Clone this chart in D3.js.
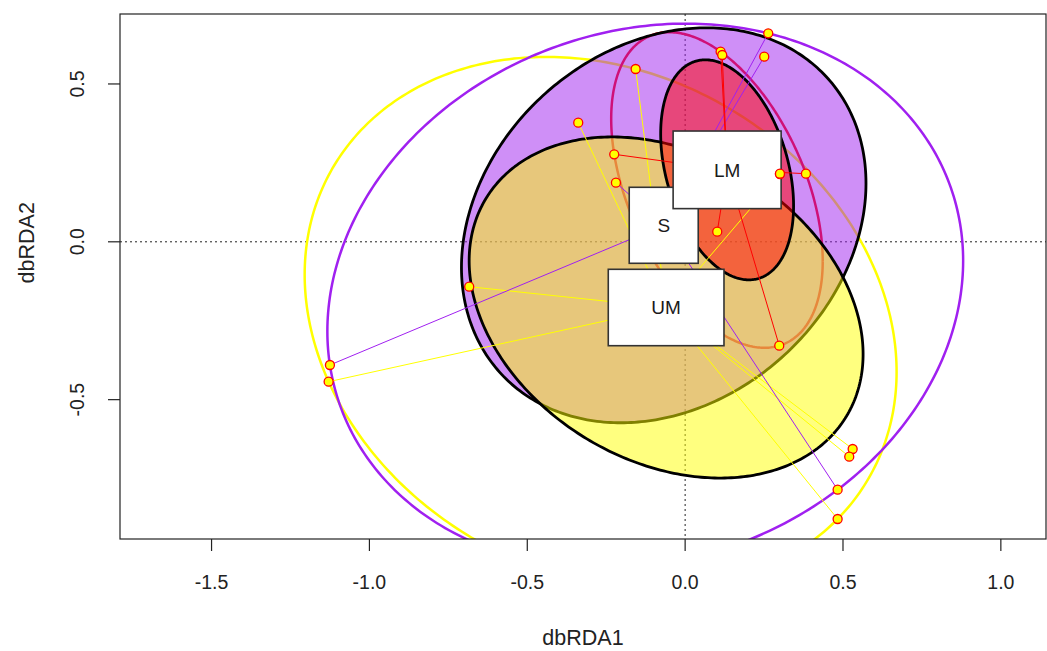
<!DOCTYPE html>
<html>
<head>
<meta charset="utf-8">
<script src="https://cdn.jsdelivr.net/npm/d3@7"></script>
<style>
  html, body { margin: 0; padding: 0; background: #ffffff; }
  svg { display: block; }
  text { font-family: "Liberation Sans", Arial, sans-serif; }
</style>
</head>
<body>
<svg id="chart" width="1047" height="651"></svg>
<script>
// ---- site scores on the first two constrained axes, by group ----
const lmX = [0.1124, 0.1175, -0.2246, 0.3003, 0.3826, 0.1017, 0.2981];
const lmY = [0.6022, 0.5917, 0.2772, 0.2157, 0.2157, 0.0320, -0.3291];

const sX = [0.2632, 0.2506, -0.2192, -1.1251, 0.4830];
const sY = [0.6604, 0.5863, 0.1872, -0.3902, -0.7852];

const umX = [-0.1568, -0.3386, -0.6839, -1.1292, 0.5306, 0.5198, 0.4830, 0.3003];
const umY = [0.5474, 0.3773, -0.1422, -0.4431, -0.6563, -0.6807, -0.8780, 0.2147];

// ---- group centroids (spider hubs and label anchors) ----
const centroidGroup = ["LM", "S", "UM"];
const centroidX = [0.133, -0.0678, -0.0602];
const centroidY = [0.228, 0.0523, -0.2081];

// ---- standard-deviation ellipses: semi-axes and major-axis angle (deg) ----
const sdGroup = ["LM", "S", "UM"];
const sdA = [0.3582, 0.6976, 0.667];
const sdB = [0.1935, 0.5613, 0.486];
const sdAngle = [-74.05, 41.8, -31.1];

// ---- axes ----
const xTicks = [-1.5, -1.0, -0.5, 0.0, 0.5, 1.0];
const yTicks = [-0.5, 0.0, 0.5];
const xLabel = "dbRDA1";
const yLabel = "dbRDA2";

// ---------------------------------------------------------------
const colours = { LM: "#FF0000", S: "#A020F0", UM: "#FFFF00" };
const fillOrder = ["S", "UM", "LM"];
const labelBox = { LM: [108, 77.6], S: [69, 76], UM: [115.7, 76.4] };

const points = {
  LM: lmX.map((v, i) => [v, lmY[i]]),
  S: sX.map((v, i) => [v, sY[i]]),
  UM: umX.map((v, i) => [v, umY[i]])
};
const centroid = {};
centroidGroup.forEach((g, i) => centroid[g] = [centroidX[i], centroidY[i]]);

const plot = { left: 120, top: 14, right: 1046, bottom: 539 };
const x = d3.scaleLinear().domain([-1.790, 1.143]).range([plot.left, plot.right]);
const y = d3.scaleLinear().domain([-0.9414, 0.7216]).range([plot.bottom, plot.top]);

const svg = d3.select("#chart");
svg.append("defs").append("clipPath").attr("id", "plotClip")
  .append("rect")
  .attr("x", plot.left).attr("y", plot.top)
  .attr("width", plot.right - plot.left).attr("height", plot.bottom - plot.top);

// layers, bottom to top
const g = svg.append("g").attr("clip-path", "url(#plotClip)");
const labelLayer = svg.append("g");
const pointLayer = svg.append("g").attr("clip-path", "url(#plotClip)");

const line = d3.line().x(d => x(d[0])).y(d => y(d[1]));

// origin cross-hairs
g.append("line").attr("x1", x(0)).attr("x2", x(0))
  .attr("y1", plot.top).attr("y2", plot.bottom)
  .attr("stroke", "#222").attr("stroke-width", 1).attr("stroke-dasharray", "2,3");
g.append("line").attr("x1", plot.left).attr("x2", plot.right)
  .attr("y1", y(0)).attr("y2", y(0))
  .attr("stroke", "#222").attr("stroke-width", 1).attr("stroke-dasharray", "2,3");

// minimum-volume enclosing ellipse (Khachiyan iteration)
function enclosingEllipse(pts) {
  const n = pts.length, d = 2;
  let u = new Array(n).fill(1 / n);
  const q = pts.map(p => [p[0], p[1], 1]);
  for (let it = 0; it < 20000; it++) {
    const X = [[0,0,0],[0,0,0],[0,0,0]];
    for (let i = 0; i < n; i++)
      for (let r = 0; r < 3; r++)
        for (let c = 0; c < 3; c++) X[r][c] += u[i] * q[i][r] * q[i][c];
    const inv = invert3(X);
    let best = -1, jm = 0;
    for (let i = 0; i < n; i++) {
      let m = 0;
      for (let r = 0; r < 3; r++)
        for (let c = 0; c < 3; c++) m += q[i][r] * inv[r][c] * q[i][c];
      if (m > best) { best = m; jm = i; }
    }
    const step = (best - d - 1) / ((d + 1) * (best - 1));
    if (step < 1e-9) break;
    u = u.map(v => v * (1 - step));
    u[jm] += step;
  }
  let cx = 0, cy = 0;
  pts.forEach((p, i) => { cx += u[i] * p[0]; cy += u[i] * p[1]; });
  let sxx = 0, syy = 0, sxy = 0;
  pts.forEach((p, i) => {
    sxx += u[i] * (p[0] - cx) * (p[0] - cx);
    syy += u[i] * (p[1] - cy) * (p[1] - cy);
    sxy += u[i] * (p[0] - cx) * (p[1] - cy);
  });
  // scale so every point lies inside
  let cov = [d * sxx, d * sxy, d * syy];
  const det = cov[0] * cov[2] - cov[1] * cov[1];
  let kmax = 0;
  pts.forEach(p => {
    const dx = p[0] - cx, dy = p[1] - cy;
    const k = (cov[2] * dx * dx - 2 * cov[1] * dx * dy + cov[0] * dy * dy) / det;
    kmax = Math.max(kmax, k);
  });
  cov = cov.map(v => v * kmax);
  return { c: [cx, cy], cov };
}
function invert3(m) {
  const [a, b, c] = m[0], [d, e, f] = m[1], [g2, h, i] = m[2];
  const A = e * i - f * h, B = -(d * i - f * g2), C = d * h - e * g2;
  const det = a * A + b * B + c * C;
  return [
    [A / det, -(b * i - c * h) / det, (b * f - c * e) / det],
    [B / det, (a * i - c * g2) / det, -(a * f - c * d) / det],
    [C / det, -(a * h - b * g2) / det, (a * e - b * d) / det]
  ];
}
function covEllipsePath(c, cov) {
  const l11 = Math.sqrt(cov[0]);
  const l21 = cov[1] / l11;
  const l22 = Math.sqrt(cov[2] - l21 * l21);
  const pts = d3.range(0, 361).map(k => {
    const t = k * Math.PI / 180;
    return [c[0] + l11 * Math.cos(t), c[1] + l21 * Math.cos(t) + l22 * Math.sin(t)];
  });
  return line(pts);
}
function axesEllipsePath(c, a, b, deg) {
  const p = deg * Math.PI / 180;
  const pts = d3.range(0, 361).map(k => {
    const t = k * Math.PI / 180;
    return [c[0] + a * Math.cos(t) * Math.cos(p) - b * Math.sin(t) * Math.sin(p),
            c[1] + a * Math.cos(t) * Math.sin(p) + b * Math.sin(t) * Math.cos(p)];
  });
  return line(pts);
}

// enclosing hull ellipses (outlines)
["UM", "S", "LM"].forEach(grp => {
  const e = enclosingEllipse(points[grp]);
  g.append("path").attr("d", covEllipsePath(e.c, e.cov))
    .attr("fill", "none").attr("stroke", colours[grp]).attr("stroke-width", 2.5);
});

// filled standard-deviation ellipses
fillOrder.forEach(grp => {
  const i = sdGroup.indexOf(grp);
  g.append("path").attr("d", axesEllipsePath(centroid[grp], sdA[i], sdB[i], sdAngle[i]))
    .attr("fill", colours[grp]).attr("fill-opacity", 0.5)
    .attr("stroke", "#000").attr("stroke-width", 2.8).attr("stroke-linejoin", "round");
});

// spiders
["UM", "S", "LM"].forEach(grp => {
  const c = centroid[grp];
  g.append("g").selectAll("line").data(points[grp]).join("line")
    .attr("x1", x(c[0])).attr("y1", y(c[1]))
    .attr("x2", d => x(d[0])).attr("y2", d => y(d[1]))
    .attr("stroke", colours[grp]).attr("stroke-width", 1);
});

// group labels at the spider hubs
["UM", "S", "LM"].forEach(grp => {
  const c = centroid[grp], [w, h] = labelBox[grp];
  const lg = labelLayer.append("g");
  lg.append("rect")
    .attr("x", x(c[0]) - w / 2).attr("y", y(c[1]) - h / 2)
    .attr("width", w).attr("height", h)
    .attr("fill", "#fff").attr("stroke", "#333").attr("stroke-width", 1.6);
  lg.append("text").attr("x", x(c[0])).attr("y", y(c[1]))
    .attr("dy", "0.36em").attr("text-anchor", "middle")
    .attr("font-size", 19).attr("fill", "#1a1a1a").text(grp);
});

// site points
["UM", "S", "LM"].forEach(grp => {
  pointLayer.append("g").selectAll("circle").data(points[grp]).join("circle")
    .attr("cx", d => x(d[0])).attr("cy", d => y(d[1])).attr("r", 4.5)
    .attr("fill", "#FFFF00").attr("stroke", "#FF0000").attr("stroke-width", 1.3);
});

// frame
svg.append("rect").attr("x", plot.left).attr("y", plot.top)
  .attr("width", plot.right - plot.left).attr("height", plot.bottom - plot.top)
  .attr("fill", "none").attr("stroke", "#222").attr("stroke-width", 1.2);

const fmt = d => d3.format(".1f")(d).replace("\u2212", "-");

// x axis
const xa = svg.append("g");
xa.selectAll("line").data(xTicks).join("line")
  .attr("x1", d => x(d)).attr("x2", d => x(d))
  .attr("y1", plot.bottom).attr("y2", plot.bottom + 12)
  .attr("stroke", "#222").attr("stroke-width", 1.2);
xa.selectAll("text").data(xTicks).join("text")
  .attr("x", d => x(d)).attr("y", 589).attr("text-anchor", "middle")
  .attr("font-size", 19.5).attr("fill", "#222").text(fmt);
svg.append("text").attr("x", (plot.left + plot.right) / 2).attr("y", 645)
  .attr("text-anchor", "middle").attr("font-size", 21.5).attr("fill", "#222").text(xLabel);

// y axis
const ya = svg.append("g");
ya.selectAll("line").data(yTicks).join("line")
  .attr("x1", plot.left - 12).attr("x2", plot.left)
  .attr("y1", d => y(d)).attr("y2", d => y(d))
  .attr("stroke", "#222").attr("stroke-width", 1.2);
ya.selectAll("text").data(yTicks).join("text")
  .attr("transform", d => `translate(84,${y(d)}) rotate(-90)`)
  .attr("text-anchor", "middle").attr("font-size", 19.5).attr("fill", "#222").text(fmt);
svg.append("text").attr("transform", `translate(34,${y(0) + 1}) rotate(-90)`)
  .attr("text-anchor", "middle").attr("font-size", 21.5).attr("fill", "#222").text(yLabel);
</script>
</body>
</html>
